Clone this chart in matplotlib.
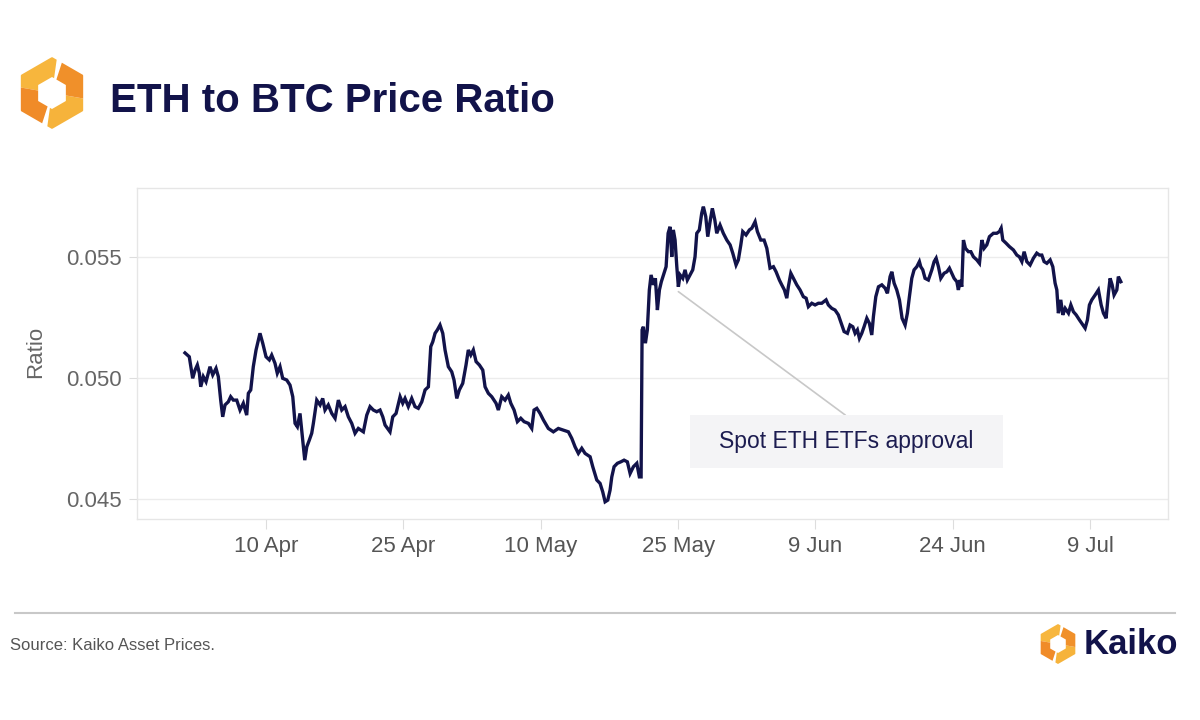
import numpy as np
import pandas as pd
import matplotlib
matplotlib.use("Agg")
import matplotlib.pyplot as plt
from matplotlib.patches import Polygon, Rectangle

plt.rcParams["font.family"] = ["Liberation Sans", "DejaVu Sans"]

# --- data: ETH/BTC ratio (days since 2024-04-01) --------------------------------
START = pd.Timestamp("2024-04-01")

days_pre = [0.15, 0.62, 0.99, 1.25, 1.50, 1.72, 1.87, 2.15, 2.45, 2.88, 3.18, 3.54, 3.79, 4.05,
            4.27, 4.52, 4.88, 5.14, 5.43, 5.80, 6.16, 6.52, 6.89, 7.07, 7.33, 7.61, 7.91, 8.34,
            8.64, 9.00, 9.36, 9.62, 9.98, 10.23, 10.53, 10.82, 11.26, 11.62, 11.92, 12.17, 12.42,
            12.71, 13.01, 13.23, 13.45, 13.73, 13.99, 14.17, 14.54, 14.90, 15.19, 15.44, 15.80,
            16.18, 16.54, 16.90, 17.27, 17.63, 17.99, 18.36, 18.72, 19.08, 19.63, 20.00, 20.36,
            20.72, 21.09, 21.45, 21.75, 22.00, 22.54, 22.84, 23.20, 23.64, 23.93, 24.18, 24.54,
            24.91, 25.27, 25.63, 26.01, 26.37, 26.73, 26.99, 27.21, 27.46, 27.71, 28.00, 28.30,
            28.55, 28.91, 29.28, 29.53, 29.83, 30.11, 30.48, 30.84, 31.09, 31.36, 31.64, 31.94,
            32.30, 32.67, 32.92, 33.28, 33.65, 34.12, 34.37, 34.74, 35.10, 35.46, 35.73, 36.09,
            36.45, 36.82, 37.18, 37.65, 38.02, 38.27, 38.57, 38.93, 39.29, 39.83, 40.38, 40.92,
            41.47, 42.02, 42.39, 42.75, 43.11, 43.48, 43.84, 44.39, 44.68, 45.12, 45.48, 45.77,
            46.03, 46.32, 46.57, 46.76, 47.01, 47.37, 47.74, 48.10, 48.46, 48.76, 49.12, 49.49,
            49.77, 49.96]
ratio_pre = [0.05105, 0.05089, 0.05000, 0.05034, 0.05055, 0.05021, 0.04965, 0.05007, 0.04986,
             0.05048, 0.05014, 0.05041, 0.05007, 0.04910, 0.04841, 0.04890, 0.04903, 0.04924,
             0.04910, 0.04910, 0.04869, 0.04897, 0.04848, 0.04938, 0.04952, 0.05048, 0.05117,
             0.05186, 0.05145, 0.05089, 0.05076, 0.05096, 0.05062, 0.05021, 0.05048, 0.05000,
             0.04993, 0.04972, 0.04924, 0.04814, 0.04800, 0.04855, 0.04745, 0.04662, 0.04717,
             0.04745, 0.04773, 0.04814, 0.04910, 0.04890, 0.04917, 0.04869, 0.04890, 0.04855,
             0.04835, 0.04910, 0.04869, 0.04883, 0.04841, 0.04814, 0.04773, 0.04793, 0.04779,
             0.04848, 0.04883, 0.04869, 0.04862, 0.04869, 0.04841, 0.04807, 0.04779, 0.04841,
             0.04855, 0.04924, 0.04897, 0.04917, 0.04883, 0.04917, 0.04883, 0.04876, 0.04903,
             0.04952, 0.04965, 0.05131, 0.05151, 0.05186, 0.05200, 0.05220, 0.05186, 0.05117,
             0.05048, 0.05027, 0.04993, 0.04917, 0.04952, 0.04979, 0.05055, 0.05117, 0.05096,
             0.05117, 0.05069, 0.05055, 0.05034, 0.04965, 0.04938, 0.04924, 0.04897, 0.04869,
             0.04924, 0.04910, 0.04931, 0.04897, 0.04869, 0.04821, 0.04835, 0.04821, 0.04814,
             0.04793, 0.04869, 0.04876, 0.04855, 0.04828, 0.04793, 0.04779, 0.04793, 0.04786,
             0.04779, 0.04752, 0.04717, 0.04690, 0.04711, 0.04690, 0.04676, 0.04635, 0.04580,
             0.04566, 0.04531, 0.04490, 0.04497, 0.04538, 0.04593, 0.04635, 0.04649, 0.04655,
             0.04662, 0.04655, 0.04607, 0.04635, 0.04649, 0.04593, 0.04593]

days_post = [50.07, 50.21, 50.43, 50.64, 50.86, 51.05, 51.30, 51.52, 51.74, 51.96, 52.17, 52.47,
             52.69, 52.91, 53.12, 53.31, 53.48, 53.67, 53.86, 54.03, 54.22, 54.51, 54.76, 55.01,
             55.31, 55.60, 55.85, 56.04, 56.32, 56.58, 56.76, 57.02, 57.24, 57.49, 57.74, 58.01,
             58.22, 58.58, 58.94, 59.32, 59.68, 59.97, 60.33, 60.58, 60.85, 61.06, 61.42, 61.79,
             62.05, 62.41, 62.66, 63.03, 63.39, 63.69, 64.04, 64.41, 64.70, 65.06, 65.32, 65.61,
             65.87, 66.04, 66.31, 66.59, 66.96, 67.32, 67.68, 67.98, 68.23, 68.60, 68.96, 69.32,
             69.69, 70.16, 70.41, 70.78, 71.14, 71.50, 71.76, 72.13, 72.49, 72.78, 73.08, 73.33,
             73.58, 73.80, 74.06, 74.31, 74.61, 74.89, 75.15, 75.33, 75.59, 75.88, 76.25, 76.61,
             76.86, 77.15, 77.34, 77.59, 77.88, 78.17, 78.46, 78.79, 79.04, 79.26, 79.52, 79.77,
             80.07, 80.35, 80.50, 80.72, 80.97, 81.33, 81.71, 81.96, 82.18, 82.43, 82.69, 83.05,
             83.35, 83.63, 83.89, 84.14, 84.44, 84.61, 84.80, 84.98, 85.16, 85.38, 85.70, 85.97,
             86.25, 86.62, 86.91, 87.17, 87.42, 87.71, 88.00, 88.43, 88.80, 89.09, 89.28, 89.46,
             89.82, 90.18, 90.62, 90.99, 91.27, 91.54, 91.79, 92.08, 92.44, 92.80, 93.17, 93.46,
             93.72, 93.97, 94.27, 94.63, 94.92, 95.17, 95.36, 95.53, 95.79, 96.01, 96.27, 96.63,
             96.89, 97.17, 97.47, 97.83, 98.09, 98.45, 98.70, 98.92, 99.18, 99.54, 99.90, 100.20,
             100.45, 100.74, 100.99, 101.18, 101.40, 101.61, 101.91, 102.08, 102.35]
ratio_post = [0.05200, 0.05213, 0.05145, 0.05200, 0.05365, 0.05427, 0.05386, 0.05413, 0.05282,
              0.05365, 0.05399, 0.05434, 0.05461, 0.05599, 0.05626, 0.05502, 0.05613, 0.05571,
              0.05461, 0.05378, 0.05427, 0.05413, 0.05448, 0.05406, 0.05427, 0.05448, 0.05502,
              0.05599, 0.05613, 0.05682, 0.05709, 0.05668, 0.05585, 0.05647, 0.05702, 0.05654,
              0.05599, 0.05633, 0.05599, 0.05571, 0.05551, 0.05517, 0.05468, 0.05489, 0.05551,
              0.05606, 0.05592, 0.05613, 0.05620, 0.05647, 0.05606, 0.05571, 0.05571, 0.05537,
              0.05455, 0.05461, 0.05440, 0.05406, 0.05386, 0.05365, 0.05331, 0.05378, 0.05434,
              0.05413, 0.05386, 0.05365, 0.05337, 0.05331, 0.05296, 0.05310, 0.05303, 0.05310,
              0.05310, 0.05324, 0.05303, 0.05289, 0.05282, 0.05262, 0.05234, 0.05193, 0.05186,
              0.05220, 0.05213, 0.05186, 0.05200, 0.05165, 0.05186, 0.05213, 0.05248, 0.05227,
              0.05179, 0.05255, 0.05337, 0.05378, 0.05386, 0.05372, 0.05351, 0.05420, 0.05440,
              0.05393, 0.05365, 0.05324, 0.05248, 0.05220, 0.05269, 0.05337, 0.05413, 0.05448,
              0.05461, 0.05482, 0.05461, 0.05448, 0.05413, 0.05406, 0.05448, 0.05482, 0.05496,
              0.05461, 0.05413, 0.05434, 0.05440, 0.05455, 0.05434, 0.05413, 0.05399, 0.05365,
              0.05406, 0.05378, 0.05571, 0.05537, 0.05523, 0.05523, 0.05502, 0.05489, 0.05475,
              0.05571, 0.05537, 0.05551, 0.05585, 0.05599, 0.05599, 0.05606, 0.05620, 0.05571,
              0.05558, 0.05544, 0.05530, 0.05509, 0.05502, 0.05482, 0.05523, 0.05482, 0.05468,
              0.05496, 0.05517, 0.05509, 0.05509, 0.05482, 0.05475, 0.05489, 0.05461, 0.05393,
              0.05365, 0.05269, 0.05324, 0.05262, 0.05289, 0.05269, 0.05303, 0.05275, 0.05262,
              0.05241, 0.05227, 0.05207, 0.05241, 0.05303, 0.05324, 0.05344, 0.05365, 0.05303,
              0.05269, 0.05248, 0.05351, 0.05413, 0.05386, 0.05344, 0.05365, 0.05420, 0.05399]

tick_dates = ["2024-04-10", "2024-04-25", "2024-05-10", "2024-05-25", "2024-06-09",
              "2024-06-24", "2024-07-09"]
tick_labels = ["10 Apr", "25 Apr", "10 May", "25 May", "9 Jun", "24 Jun", "9 Jul"]
y_ticks = [0.045, 0.050, 0.055]
y_labels = ["0.045", "0.050", "0.055"]

ANNOT_TEXT = "Spot ETH ETFs approval"
ANNOT_DAY, ANNOT_VAL = 54.03, 0.05358

NAVY = "#12134a"
GRID = "#ececec"

days = np.array(days_pre + days_post)
ratio = np.array(ratio_pre + ratio_post)
dates = START + pd.to_timedelta(days, unit="D")

# --- figure ---------------------------------------------------------------------
fig = plt.figure(figsize=(12, 7.2), dpi=100)
fig.patch.set_facecolor("white")

# decorative layer in pixel coordinates (logos, rule)
deco = fig.add_axes([0, 0, 1, 1], zorder=0)
deco.set_xlim(0, 1200); deco.set_ylim(720, 0); deco.axis("off")


def hex_piece(cx, cy, R, r, a0, a1, n=60):
    th = np.radians(np.linspace(a0, a1, n))
    phi = np.radians((np.degrees(th) - 90) % 60 - 30)
    k = np.cos(np.radians(30)) / np.cos(phi)
    ox, oy = cx + R * k * np.cos(th), cy - R * k * np.sin(th)
    ix, iy = cx + r * k * np.cos(th), cy - r * k * np.sin(th)
    return np.column_stack([np.r_[ox, ix[::-1]], np.r_[oy, iy[::-1]]])


def draw_logo(cx, cy, R, r):
    pieces = [(82, 170, "#f7b63d"), (170, 252, "#f08b28"),
              (-98, -10, "#f6b33b"), (-10, 72, "#f0902a")]
    for a0, a1, c in pieces:
        deco.add_patch(Polygon(hex_piece(cx, cy, R, r, a0, a1), closed=True,
                               facecolor=c, edgecolor="none"))


draw_logo(52, 93, 36, 16)
draw_logo(1058, 644, 20, 9)
deco.plot([15, 1175], [613, 613], color="#c8c8c8", lw=1.5)

fig.text(110 / 1200, 1 - 101 / 720, "ETH to BTC Price Ratio", fontsize=29,
         fontweight="bold", color=NAVY, va="center", ha="left")
fig.text(10 / 1200, 1 - 646 / 720, "Source: Kaiko Asset Prices.", fontsize=12,
         color="#555555", va="center", ha="left")
fig.text(1084 / 1200, 1 - 645 / 720, "Kaiko", fontsize=25, fontweight="bold",
         color=NAVY, va="center", ha="left")

# --- main chart -----------------------------------------------------------------
ax = fig.add_axes([137 / 1200, 1 - 519 / 720, 1031 / 1200, 331 / 720], zorder=1)
ax.set_facecolor("none")
ax.plot(dates, ratio, color=NAVY, lw=2.4, solid_joinstyle="miter")

ax.set_xlim(START + pd.Timedelta(days=-5.09), START + pd.Timedelta(days=107.5))
ax.set_ylim(0.04419, 0.05786)
ax.set_xticks(pd.to_datetime(tick_dates))
ax.set_xticklabels(tick_labels)
ax.set_yticks(y_ticks)
ax.set_yticklabels(y_labels)
ax.grid(axis="y", color=GRID, lw=1)
ax.set_axisbelow(True)
for s in ax.spines.values():
    s.set_color("#e6e6e6"); s.set_linewidth(1)
ax.tick_params(axis="x", length=7, color="#dddddd", labelsize=16, labelcolor="#555555", pad=5)
ax.tick_params(axis="y", length=6, color="#dddddd", labelsize=16, labelcolor="#666666", pad=5)
ax.set_ylabel("Ratio", fontsize=16, color="#666666")
ax.yaxis.set_label_coords(-0.088, 0.505)

# annotation: leader line + boxed label
ax.annotate("", xy=(START + pd.Timedelta(days=ANNOT_DAY), ANNOT_VAL),
            xytext=(0.687, 0.314), textcoords="axes fraction",
            arrowprops=dict(arrowstyle="-", color="#c8c8c8", lw=1.2, shrinkA=0, shrinkB=0))
ax.add_patch(Rectangle((0.536, 0.154), 0.3036, 0.160, transform=ax.transAxes,
                       facecolor="#f4f4f6", edgecolor="none", zorder=3))
ax.text(0.688, 0.234, ANNOT_TEXT, transform=ax.transAxes, ha="center", va="center",
        fontsize=16.5, color="#1c1c50", zorder=4)

fig.savefig("out.png", dpi=100)
